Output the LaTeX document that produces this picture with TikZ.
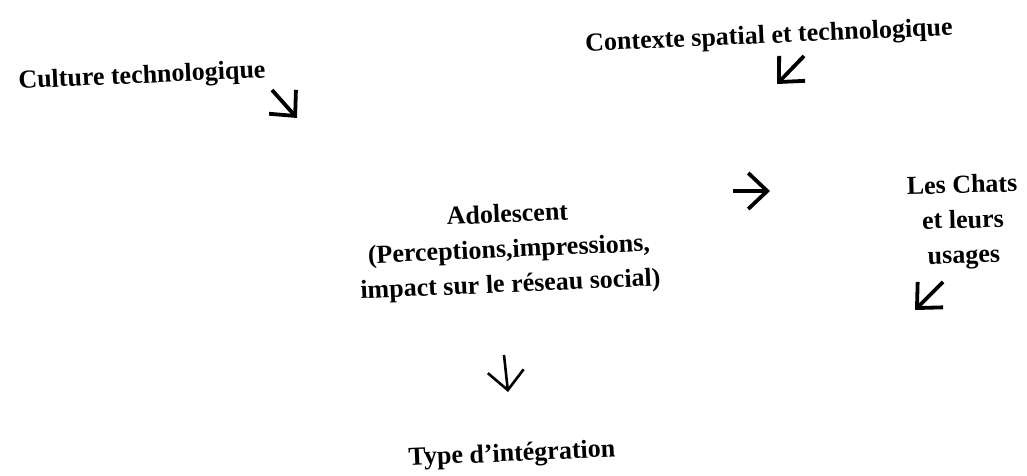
\documentclass[tikz,border=0pt]{standalone}
\usepackage{fontspec}
\setmainfont{Liberation Serif}
\usetikzlibrary{arrows.meta}

\tikzset{
  labeltext/.style={font=\bfseries\fontsize{13}{17.5}\selectfont, align=center, inner sep=0pt, rotate=2.5},
  flow/.style={-{Straight Barb[length=9.5pt,width=18pt]}, line width=1.9pt},
}

\begin{document}
\begin{tikzpicture}[x=0.5pt,y=-0.5pt]
            \useasboundingbox (0,0) rectangle (1027,476);

            % Text blocks
            \node[labeltext] (culture) at (142,77) {Culture technologique};
            \node[labeltext] (contexte) at (769,37) {Contexte spatial et technologique};
            \node[labeltext] (ado) at (509,251) {Adolescent\\(Perceptions,impressions,\\impact sur le réseau social)};
            \node[labeltext, rotate=-1] (chats) at (963,222) {Les Chats\\et leurs\\usages};
            \node[labeltext] (type) at (512,455) {Type d’intégration};

            % Arrow ends
            \coordinate (cultA) at (272,90);
            \coordinate (cultB) at (297,118);
            \coordinate (ctxA) at (804,56);
            \coordinate (ctxB) at (777,84);
            \coordinate (adoA) at (733,191);
            \coordinate (adoB) at (770,191);
            \coordinate (chatA) at (943,282);
            \coordinate (chatB) at (915,310);
            \coordinate (typeA) at (504,355);
            \coordinate (typeB) at (508,392);

            % Arrows
            \draw[flow] (cultA) -- (cultB);
            \draw[flow] (ctxA) -- (ctxB);
            \draw[flow] (adoA) -- (adoB);
            \draw[flow] (chatA) -- (chatB);
            \draw[flow, line width=1.3pt] (typeA) -- (typeB);
        \end{tikzpicture}
\end{document}
